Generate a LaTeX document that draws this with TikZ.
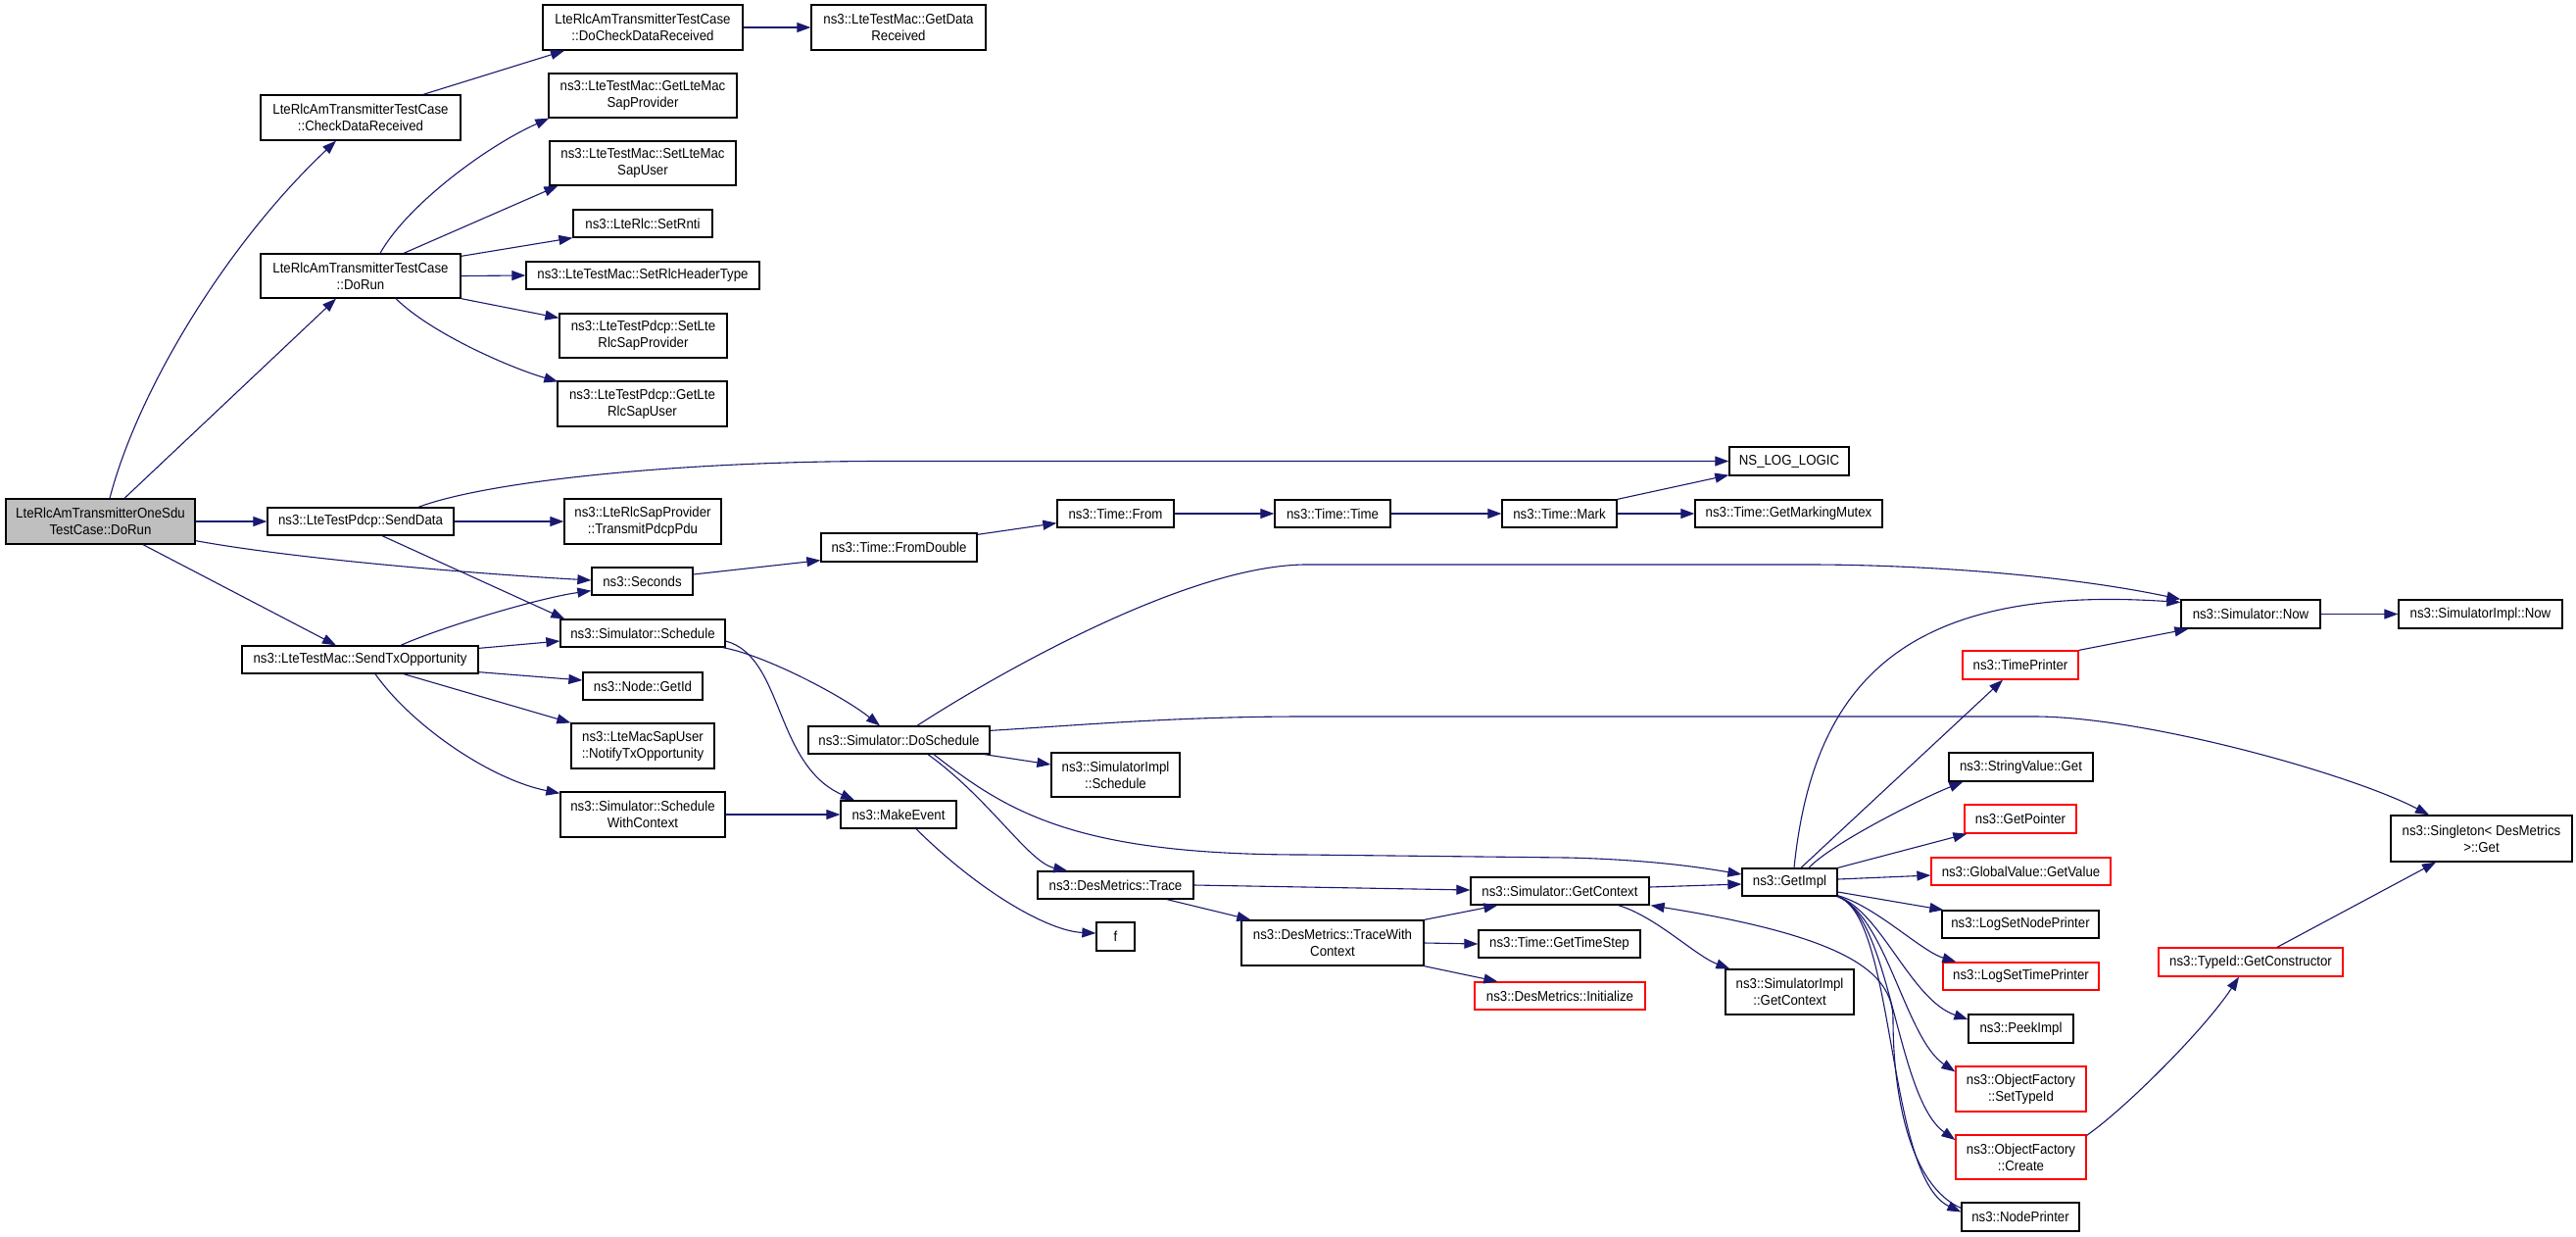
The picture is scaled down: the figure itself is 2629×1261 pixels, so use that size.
\documentclass[tikz,border=0pt]{standalone}
\usepackage{fontspec}
\setmainfont{Liberation Sans}[FakeStretch=0.92]
\usetikzlibrary{arrows.meta,calc}
\definecolor{navy}{HTML}{191970}
\definecolor{mgray}{HTML}{BFBFBF}
\definecolor{fnred}{HTML}{FF0000}
\begin{document}
\begin{tikzpicture}[x=1pt,y=-1pt,
  fn/.style={draw=black,line width=1.3pt,fill=white,inner sep=0pt,align=center,font=\fontsize{14.4}{17}\selectfont},
  redfn/.style={fn,draw=fnred},
  call/.style={navy,line width=1.1pt,-{Triangle[length=14pt,width=10pt]}}]
\fill[white] (0,0) rectangle (2629,1261);
\useasboundingbox (0,0) rectangle (2629,1261);
% column 1
\node[fn,fill=mgray,minimum width=193,minimum height=46] (main) at (102.5,532) {LteRlcAmTransmitterOneSdu\\TestCase::DoRun};
% column 2
\node[fn,minimum width=204,minimum height=46] (chk) at (368,120) {LteRlcAmTransmitterTestCase\\::CheckDataReceived};
\node[fn,minimum width=204,minimum height=45] (dorun) at (368,281.5) {LteRlcAmTransmitterTestCase\\::DoRun};
\node[fn,minimum width=190,minimum height=28] (senddata) at (368,532) {ns3::LteTestPdcp::SendData};
\node[fn,minimum width=241,minimum height=28] (sendtx) at (367.5,673) {ns3::LteTestMac::SendTxOpportunity};
% column 3
\node[fn,minimum width=204,minimum height=46] (dochk) at (656,28) {LteRlcAmTransmitterTestCase\\::DoCheckDataReceived};
\node[fn,minimum width=192,minimum height=45] (getmacprov) at (656,97.5) {ns3::LteTestMac::GetLteMac\\SapProvider};
\node[fn,minimum width=190,minimum height=45] (setmacuser) at (656,166.5) {ns3::LteTestMac::SetLteMac\\SapUser};
\node[fn,minimum width=142,minimum height=28] (setrnti) at (656,228) {ns3::LteRlc::SetRnti};
\node[fn,minimum width=238,minimum height=28] (setrlchdr) at (656,281) {ns3::LteTestMac::SetRlcHeaderType};
\node[fn,minimum width=171,minimum height=45] (setrlcprov) at (656.5,342.5) {ns3::LteTestPdcp::SetLte\\RlcSapProvider};
\node[fn,minimum width=173,minimum height=46] (getrlcuser) at (655.5,412) {ns3::LteTestPdcp::GetLte\\RlcSapUser};
\node[fn,minimum width=160,minimum height=46] (transmit) at (656,532) {ns3::LteRlcSapProvider\\::TransmitPdcpPdu};
\node[fn,minimum width=103,minimum height=28] (seconds) at (655.5,593) {ns3::Seconds};
\node[fn,minimum width=168,minimum height=28] (schedule) at (656,646) {ns3::Simulator::Schedule};
\node[fn,minimum width=122,minimum height=28] (getid) at (656,700) {ns3::Node::GetId};
\node[fn,minimum width=146,minimum height=46] (notify) at (656,761) {ns3::LteMacSapUser\\::NotifyTxOpportunity};
\node[fn,minimum width=168,minimum height=46] (schedctx) at (656,831) {ns3::Simulator::Schedule\\WithContext};
% column 4
\node[fn,minimum width=178,minimum height=46] (getdata) at (917,28) {ns3::LteTestMac::GetData\\Received};
\node[fn,minimum width=159,minimum height=29] (fromdouble) at (917.5,558.5) {ns3::Time::FromDouble};
\node[fn,minimum width=185,minimum height=28] (dosched) at (917.5,755) {ns3::Simulator::DoSchedule};
\node[fn,minimum width=118,minimum height=28] (makeevent) at (917,831) {ns3::MakeEvent};
% column 5
\node[fn,minimum width=119,minimum height=28] (timefrom) at (1138.5,524) {ns3::Time::From};
\node[fn,minimum width=131,minimum height=45] (implsched) at (1138.5,790.5) {ns3::SimulatorImpl\\::Schedule};
\node[fn,minimum width=159,minimum height=28] (trace) at (1138.5,903) {ns3::DesMetrics::Trace};
\node[fn,minimum width=39,minimum height=29] (f) at (1138.5,955.5) {f};
% column 6
\node[fn,minimum width=118,minimum height=28] (timetime) at (1360,524) {ns3::Time::Time};
\node[fn,minimum width=186,minimum height=46] (tracectx) at (1360,962) {ns3::DesMetrics::TraceWith\\Context};
% column 7
\node[fn,minimum width=117,minimum height=28] (mark) at (1591.5,524) {ns3::Time::Mark};
\node[fn,minimum width=182,minimum height=28] (getcontext) at (1592,909) {ns3::Simulator::GetContext};
\node[fn,minimum width=165,minimum height=28] (timestep) at (1591.5,963) {ns3::Time::GetTimeStep};
\node[redfn,minimum width=174,minimum height=28] (desinit) at (1592,1016) {ns3::DesMetrics::Initialize};
% column 8
\node[fn,minimum width=122,minimum height=29] (nslog) at (1826,470.5) {NS\_LOG\_LOGIC};
\node[fn,minimum width=191,minimum height=28] (mutex) at (1825.5,524) {ns3::Time::GetMarkingMutex};
\node[fn,minimum width=97,minimum height=28] (getimpl) at (1826.5,900) {ns3::GetImpl};
\node[fn,minimum width=131,minimum height=46] (implctx) at (1826.5,1012) {ns3::SimulatorImpl\\::GetContext};
% column 9
\node[redfn,minimum width=118,minimum height=29] (timeprinter) at (2062,678.5) {ns3::TimePrinter};
\node[fn,minimum width=147,minimum height=29] (stringget) at (2062.5,782.5) {ns3::StringValue::Get};
\node[redfn,minimum width=114,minimum height=29] (getpointer) at (2062,835.5) {ns3::GetPointer};
\node[redfn,minimum width=183,minimum height=28] (globalget) at (2062.5,889) {ns3::GlobalValue::GetValue};
\node[fn,minimum width=160,minimum height=28] (lognode) at (2062,943) {ns3::LogSetNodePrinter};
\node[redfn,minimum width=159,minimum height=28] (logtime) at (2062.5,996) {ns3::LogSetTimePrinter};
\node[fn,minimum width=107,minimum height=29] (peekimpl) at (2062.5,1049.5) {ns3::PeekImpl};
\node[redfn,minimum width=133,minimum height=46] (settypeid) at (2062.5,1111) {ns3::ObjectFactory\\::SetTypeId};
\node[redfn,minimum width=133,minimum height=45] (create) at (2062.5,1180.5) {ns3::ObjectFactory\\::Create};
\node[fn,minimum width=120,minimum height=29] (nodeprinter) at (2062,1241.5) {ns3::NodePrinter};
% column 10
\node[fn,minimum width=142,minimum height=29] (simnow) at (2297,626.5) {ns3::Simulator::Now};
\node[redfn,minimum width=188,minimum height=29] (getctor) at (2297,981.5) {ns3::TypeId::GetConstructor};
% column 11
\node[fn,minimum width=167,minimum height=29] (implnow) at (2531.5,626.5) {ns3::SimulatorImpl::Now};
\node[fn,minimum width=185,minimum height=47] (singleton) at (2532.5,855.5) {ns3::Singleton\textless{} DesMetrics\\\textgreater{}::Get};
% edges
\draw[call] ($(main.north)+(9.5,0)$) .. controls (140,400) and (230,250) .. ($(chk.south)+(-25,0)$);
\draw[call] ($(main.north)+(24.5,0)$) -- ($(dorun.south)+(-25,0)$);
\draw[call] ($(chk.north)+(64,0)$) -- ($(dochk.south)+(-80,0)$);
\draw[call] (dochk.east) -- (getdata.west);
\draw[call] ($(dorun.north)+(20,0)$) .. controls (415,210) and (495,150) .. ($(getmacprov.south west)+(1,0)$);
\draw[call] ($(dorun.north)+(44,0)$) -- ($(setmacuser.south west)+(9,0)$);
\draw[call] ($(dorun.north east)+(0,3)$) -- (setrnti.south west);
\draw[call] (dorun.east) -- (setrlchdr.west);
\draw[call] (dorun.south east) -- ($(setrlcprov.north west)+(0,5)$);
\draw[call] ($(dorun.south)+(36,0)$) .. controls (440,340) and (520,375) .. ($(getrlcuser.north west)+(1,1)$);
\draw[call] (main.east) -- (senddata.west);
\draw[call] ($(main.south east)+(0,-4)$) .. controls (300,570) and (480,585) .. ($(seconds.west)+(0,-1)$);
\draw[call] ($(main.south)+(43.5,0)$) -- ($(sendtx.north)+(-24.5,0)$);
\draw[call] ($(senddata.north)+(59,0)$) .. controls (500,490) and (700,470.5) .. (900,470.5) -- (nslog.west);
\draw[call] (senddata.east) -- (transmit.west);
\draw[call] ($(senddata.south)+(22,0)$) -- ($(schedule.north west)+(5,0)$);
\draw[call] ($(seconds.east)+(0,-7)$) -- ($(fromdouble.south west)+(0,-2)$);
\draw[call] ($(sendtx.north)+(41.5,0)$) .. controls (450,640) and (550,610) .. ($(seconds.south west)+(0,-5)$);
\draw[call] ($(sendtx.north east)+(0,3)$) -- ($(schedule.west)+(0,8)$);
\draw[call] ($(sendtx.south east)+(0,-2)$) -- ($(getid.west)+(0,-6)$);
\draw[call] ($(sendtx.south)+(44.5,0)$) -- (notify.north west);
\draw[call] ($(sendtx.south)+(15.5,0)$) .. controls (420,740) and (500,795) .. ($(schedctx.north west)+(0,2)$);
\draw[call] (schedctx.east) -- (makeevent.west);
\draw[call] ($(schedule.south east)+(-3,0)$) .. controls (780,668) and (860,710) .. ($(dosched.north)+(-19.5,0)$);
\draw[call] ($(schedule.east)+(0,8)$) .. controls (800,670) and (790,780) .. ($(makeevent.north)+(-45,0)$);
\draw[call] ($(fromdouble.north east)+(0,2)$) -- ($(timefrom.south west)+(0,-5)$);
\draw[call] (timefrom.east) -- (timetime.west);
\draw[call] (timetime.east) -- (mark.west);
\draw[call] (mark.east) -- (mutex.west);
\draw[call] (mark.north east) -- ($(nslog.south west)+(0,-1)$);
\draw[call] ($(dosched.north)+(18.5,0)$) .. controls (990,705) and (1200,578) .. (1331,576) -- (1846,576) .. controls (1950,576) and (2100,585) .. (simnow.north west);
\draw[call] ($(dosched.north east)+(0,5)$) .. controls (1100,740) and (1200,731) .. (1331,731) -- (2076,731) .. controls (2190,731) and (2400,790) .. ($(singleton.north)+(-53.5,0)$);
\draw[call] ($(dosched.south east)+(-6,0)$) -- ($(implsched.west)+(0,-10.5)$);
\draw[call] ($(dosched.south)+(29.5,0)$) .. controls (1010,815) and (1050,880) .. ($(trace.north west)+(31,0)$);
\draw[call] ($(dosched.south)+(35.5,0)$) .. controls (1030,830) and (1100,872) .. (1331,872) -- (1600,875) .. controls (1680,877) and (1730,884) .. ($(getimpl.west)+(0,-8)$);
\draw[call] ($(makeevent.south)+(18,0)$) .. controls (1000,910) and (1070,950) .. ($(f.west)+(0,-3.5)$);
\draw[call] (trace.east) -- ($(getcontext.west)+(0,-1)$);
\draw[call] ($(trace.south)+(52.5,0)$) -- ($(tracectx.north west)+(10,0)$);
\draw[call] (tracectx.north east) -- ($(getcontext.south west)+(28,0)$);
\draw[call] (tracectx.east) -- (timestep.west);
\draw[call] (tracectx.south east) -- ($(desinit.north west)+(24,0)$);
\draw[call] ($(getcontext.east)+(0,-4)$) -- ($(getimpl.west)+(0,2)$);
\draw[call] ($(getcontext.south east)+(-32,0)$) .. controls (1690,935) and (1730,975) .. ($(implctx.north west)+(5,0)$);
\draw[call] ($(nodeprinter.west)+(0,-9)$) .. controls (1950,1210) and (1932,1120) .. (1932,1040) .. controls (1932,990) and (1880,955) .. ($(getcontext.south east)+(1,0)$);
\draw[call] ($(getimpl.north)+(4.5,0)$) .. controls (1850,700) and (1940,595) .. ($(simnow.west)+(0,-12)$);
\draw[call] ($(getimpl.north)+(11.5,0)$) -- ($(timeprinter.south)+(-18,0)$);
\draw[call] ($(getimpl.north)+(19.5,0)$) .. controls (1870,860) and (1960,815) .. ($(stringget.south west)+(15,0)$);
\draw[call] (getimpl.north east) -- ($(getpointer.south west)+(3,0)$);
\draw[call] ($(getimpl.east)+(0,-3)$) -- ($(globalget.west)+(0,4)$);
\draw[call] ($(getimpl.east)+(0,10)$) -- ($(lognode.north west)+(2,0)$);
\draw[call] ($(getimpl.south east)+(0,-1)$) .. controls (1915,925) and (1960,970) .. ($(logtime.north west)+(14,0)$);
\draw[call] (getimpl.south east) .. controls (1920,930) and (1950,1020) .. ($(peekimpl.west)+(0,-9.5)$);
\draw[call] (getimpl.south east) .. controls (1925,935) and (1945,1060) .. ($(settypeid.north west)+(0,6)$);
\draw[call] (getimpl.south east) .. controls (1930,935) and (1935,1120) .. ($(create.west)+(0,-17.5)$);
\draw[call] (getimpl.south east) .. controls (1935,935) and (1925,1200) .. ($(nodeprinter.west)+(0,-5)$);
\draw[call] (timeprinter.north east) -- ($(simnow.south west)+(8,0)$);
\draw[call] (simnow.east) -- (implnow.west);
\draw[call] ($(create.north east)+(0,1)$) .. controls (2170,1130) and (2250,1050) .. ($(getctor.south)+(-12,0)$);
\draw[call] ($(getctor.north)+(27,0)$) -- ($(singleton.south)+(-46.5,0)$);
\end{tikzpicture}
\end{document}
